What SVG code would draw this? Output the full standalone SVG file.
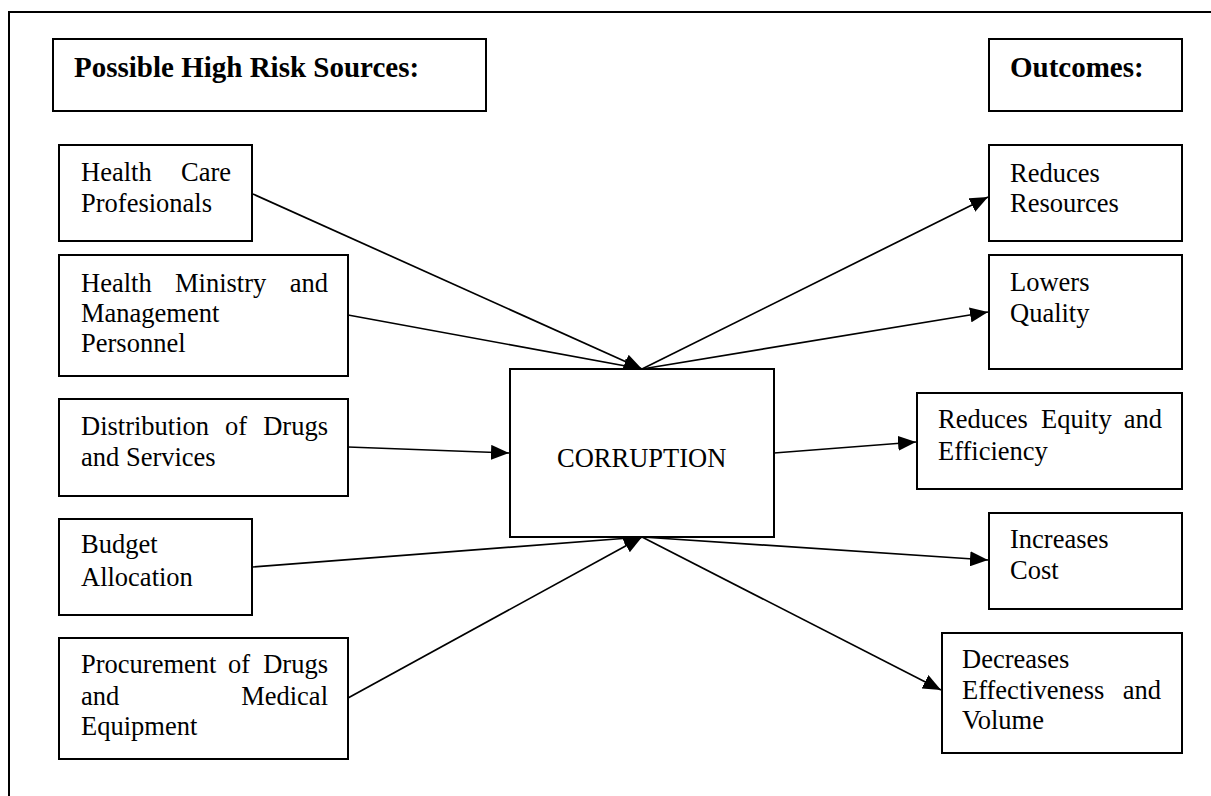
<svg xmlns="http://www.w3.org/2000/svg" width="1211" height="796" viewBox="0 0 1211 796">
<style>
.box{fill:#fff;stroke:#000;stroke-width:2}
.t{font-family:"Liberation Serif","Times New Roman",serif;font-size:26.5px;fill:#000}
.h{font-family:"Liberation Serif","Times New Roman",serif;font-size:29px;font-weight:bold;fill:#000}
.c{stroke:#000;stroke-width:1.7;fill:none;marker-end:url(#arr)}
</style>
<defs>
<marker id="arr" markerUnits="userSpaceOnUse" markerWidth="19" markerHeight="15" refX="18" refY="7.5" orient="auto">
<path d="M0,0 L18,7.5 L0,15 Z" fill="#000"/>
</marker>
</defs>
<rect width="1211" height="796" fill="#fff"/>
<path d="M9,800 V12 H1215" fill="none" stroke="#000" stroke-width="2"/>

<g id="connectors">
<line class="c" x1="253" y1="194" x2="642" y2="369"/>
<line class="c" x1="348" y1="315" x2="642" y2="369"/>
<line class="c" x1="642" y1="369" x2="988" y2="197"/>
<line class="c" x1="642" y1="369" x2="988" y2="312"/>
<line class="c" x1="348" y1="447" x2="509" y2="453"/>
<line class="c" x1="774" y1="453" x2="916" y2="442"/>
<line class="c" x1="253" y1="567" x2="642" y2="537"/>
<line class="c" x1="348" y1="698" x2="642" y2="537"/>
<line class="c" x1="642" y1="537" x2="988" y2="560"/>
<line class="c" x1="642" y1="537" x2="941" y2="690"/>
</g>

<g id="hdr-sources">
<rect class="box" x="53" y="39" width="433" height="72"/>
<text class="h" x="74" y="77">Possible High Risk Sources:</text>
</g>
<g id="hdr-outcomes">
<rect class="box" x="989" y="39" width="193" height="72"/>
<text class="h" x="1010" y="77">Outcomes:</text>
</g>

<g id="src-professionals">
<rect class="box" x="59" y="145" width="193" height="96"/>
<text class="t" x="81" y="181">Health</text>
<text class="t" x="231" y="181" text-anchor="end">Care</text>
<text class="t" x="81" y="212">Profesionals</text>
</g>
<g id="src-ministry">
<rect class="box" x="59" y="255" width="289" height="121"/>
<text class="t" x="81" y="292">Health</text>
<text class="t" x="175" y="292">Ministry</text>
<text class="t" x="328" y="292" text-anchor="end">and</text>
<text class="t" x="81" y="322">Management</text>
<text class="t" x="81" y="352">Personnel</text>
</g>
<g id="src-distribution">
<rect class="box" x="59" y="399" width="289" height="97"/>
<text class="t" x="81" y="435">Distribution</text>
<text class="t" x="225" y="435">of</text>
<text class="t" x="328" y="435" text-anchor="end">Drugs</text>
<text class="t" x="81" y="466">and Services</text>
</g>
<g id="src-budget">
<rect class="box" x="59" y="519" width="193" height="96"/>
<text class="t" x="81" y="553">Budget</text>
<text class="t" x="81" y="586">Allocation</text>
</g>
<g id="src-procurement">
<rect class="box" x="59" y="638" width="289" height="121"/>
<text class="t" x="81" y="673">Procurement</text>
<text class="t" x="228" y="673">of</text>
<text class="t" x="328" y="673" text-anchor="end">Drugs</text>
<text class="t" x="81" y="705">and</text>
<text class="t" x="328" y="705" text-anchor="end">Medical</text>
<text class="t" x="81" y="735">Equipment</text>
</g>

<g id="corruption">
<rect class="box" x="510" y="369" width="264" height="168"/>
<text class="t" x="557" y="467">CORRUPTION</text>
</g>

<g id="out-resources">
<rect class="box" x="989" y="145" width="193" height="96"/>
<text class="t" x="1010" y="182">Reduces</text>
<text class="t" x="1010" y="212">Resources</text>
</g>
<g id="out-quality">
<rect class="box" x="989" y="255" width="193" height="114"/>
<text class="t" x="1010" y="291">Lowers</text>
<text class="t" x="1010" y="322">Quality</text>
</g>
<g id="out-equity">
<rect class="box" x="917" y="393" width="265" height="96"/>
<text class="t" x="938" y="428">Reduces</text>
<text class="t" x="1041" y="428">Equity</text>
<text class="t" x="1162" y="428" text-anchor="end">and</text>
<text class="t" x="938" y="460">Efficiency</text>
</g>
<g id="out-cost">
<rect class="box" x="989" y="513" width="193" height="96"/>
<text class="t" x="1010" y="548">Increases</text>
<text class="t" x="1010" y="579">Cost</text>
</g>
<g id="out-effectiveness">
<rect class="box" x="942" y="633" width="240" height="120"/>
<text class="t" x="962" y="668">Decreases</text>
<text class="t" x="962" y="699">Effectiveness</text>
<text class="t" x="1161" y="699" text-anchor="end">and</text>
<text class="t" x="962" y="729">Volume</text>
</g>
</svg>
